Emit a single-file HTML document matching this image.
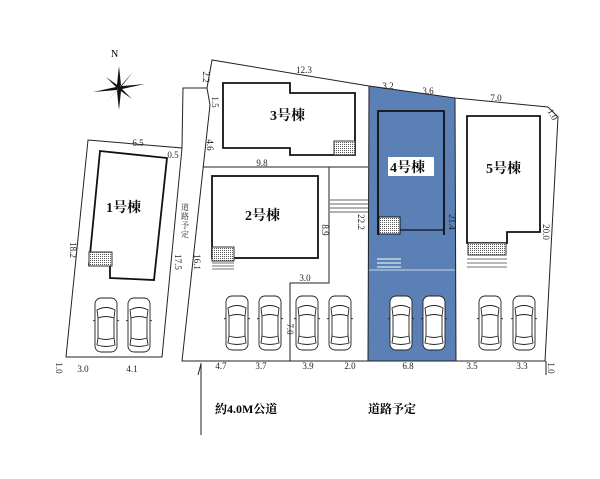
<!DOCTYPE html>
<html><head><meta charset="utf-8"><style>
html,body{margin:0;padding:0;background:#fff;}
svg{display:block;font-family:"Liberation Serif","Noto Serif CJK SC",serif;}
.d{font-size:9px;fill:#222;}
.b{font-size:14px;font-weight:bold;fill:#111;}
</style></head><body>
<svg width="600" height="479" viewBox="0 0 600 479" xmlns="http://www.w3.org/2000/svg">
<defs>
<pattern id="h" width="2" height="2" patternUnits="userSpaceOnUse"><rect width="2" height="2" fill="#fff"/><rect width="1" height="1" fill="#555"/></pattern>
<g id="car" fill="none" stroke="#222" stroke-width="0.9">
<rect x="0" y="0" width="22" height="54" rx="6"/>
<path d="M2 12 Q11 7 20 12 L19 20 Q11 17 3 20 Z"/>
<path d="M3 20 L3 40 M19 20 L19 40"/>
<path d="M3 40 Q11 43 19 40 L20 47 Q11 50 2 47 Z"/>
<path d="M0 22 l-2 1 M22 22 l2 1"/>
</g>
</defs>
<polygon points="369,86 455,98 456,361 368,361" fill="#5b80b6"/>
<line x1="368" y1="270" x2="455" y2="270" stroke="#c8d4e6" stroke-width="1"/>
<!-- lot 1 -->
<polygon points="88,140 182,148 162,357 66,357" fill="none" stroke="#222" stroke-width="1"/>
<polyline points="182,148 183,88 207,88" fill="none" stroke="#222" stroke-width="1"/>
<polyline points="207,88 212,60 369,86 455,98 548,107 558,117 545,361 182,361 210,105 207,88" fill="none" stroke="#222" stroke-width="1"/>
<line x1="369" y1="86" x2="368" y2="361" stroke="#222"/>
<line x1="455" y1="98" x2="456" y2="361" stroke="#222"/>
<line x1="203" y1="167" x2="368" y2="167" stroke="#222"/>
<polyline points="290,361 290,283 329,283 329,167" fill="none" stroke="#222"/>
<g stroke="#333" stroke-width="0.8"><line x1="330" y1="200" x2="368" y2="200"/><line x1="330" y1="204" x2="368" y2="204"/><line x1="330" y1="208" x2="368" y2="208"/><line x1="330" y1="212" x2="368" y2="212"/></g>
<!-- building 1 -->
<polygon points="100,151 167,158 154,280 110,278 110,265 89,265" fill="#fff" stroke="#111" stroke-width="1.8"/>
<rect x="89" y="252" width="23" height="14" fill="url(#h)" stroke="#333"/>
<text x="106" y="212" class="b">1号棟</text>
<!-- building 3 -->
<polygon points="223,83 290,83 290,93 355,93 355,155 290,155 290,148 223,148" fill="#fff" stroke="#111" stroke-width="1.8"/>
<rect x="334" y="141" width="21" height="14" fill="url(#h)" stroke="#333"/>
<text x="270" y="120" class="b">3号棟</text>
<!-- building 2 -->
<rect x="212" y="176" width="106" height="82" fill="#fff" stroke="#111" stroke-width="1.8"/>
<rect x="212" y="247" width="22" height="14" fill="url(#h)" stroke="#333"/>
<g stroke="#444" stroke-width="0.7"><line x1="212" y1="263" x2="234" y2="263"/><line x1="212" y1="266" x2="234" y2="266"/><line x1="212" y1="269" x2="234" y2="269"/></g>
<text x="245" y="220" class="b">2号棟</text>
<!-- building 4 -->
<polyline points="378,235 378,111 444,111 444,235" fill="none" stroke="#111" stroke-width="1.8"/>
<line x1="400" y1="230" x2="444" y2="230" stroke="#111" stroke-width="1.2"/>
<rect x="379" y="217" width="21" height="17" fill="url(#h)" stroke="#111"/>
<g stroke="#fff" stroke-width="1"><line x1="377" y1="259" x2="401" y2="259"/><line x1="377" y1="263" x2="401" y2="263"/><line x1="377" y1="267" x2="401" y2="267"/></g>
<rect x="388" y="157" width="46" height="19" fill="#fff"/>
<text x="390" y="172" class="b">4号棟</text>
<!-- building 5 -->
<polygon points="467,116 540,116 540,232 507,232 507,243 467,243" fill="#fff" stroke="#111" stroke-width="1.8"/>
<rect x="468" y="243" width="38" height="12" fill="url(#h)" stroke="#333"/>
<g stroke="#444" stroke-width="0.7"><line x1="467" y1="259" x2="507" y2="259"/><line x1="467" y1="263" x2="507" y2="263"/><line x1="467" y1="267" x2="507" y2="267"/></g>
<text x="486" y="173" class="b">5号棟</text>
<!-- cars -->
<use href="#car" x="95" y="298"/><use href="#car" x="128" y="298"/>
<use href="#car" x="226" y="296"/><use href="#car" x="259" y="296"/>
<use href="#car" x="296" y="296"/><use href="#car" x="329" y="296"/>
<g fill="#fff"><rect x="390" y="296" width="22" height="54" rx="6"/><rect x="423" y="296" width="22" height="54" rx="6"/></g>
<use href="#car" x="390" y="296"/><use href="#car" x="423" y="296"/>
<use href="#car" x="479" y="296"/><use href="#car" x="513" y="296"/>
<!-- compass -->
<g transform="translate(119,88)" fill="#111">
<polygon points="0,-22 2,-3 0,0 -2,-3"/><polygon points="0,22 2,3 0,0 -2,3"/>
<polygon points="-26,4 -3,-1 0,0 -2,2"/><polygon points="26,-4 3,-2 0,0 3,1"/>
<polygon points="14,-16 2,-1 -1,1"/><polygon points="-14,16 1,-1 -1,1"/>
<polygon points="-13,-11 -1,1 1,-1"/><polygon points="13,11 -1,1 1,-1"/>
</g>
<text x="111" y="57" style="font-size:10px">N</text>
<g class="d" text-anchor="middle">
<text x="138" y="146">6.5</text><text x="173" y="158">0.5</text>
<text x="262" y="166">9.8</text><text x="304" y="73">12.3</text>
<text x="388" y="89">3.2</text><text x="428" y="94">3.6</text><text x="496" y="101">7.0</text>
<text x="305" y="281">3.0</text>
<text x="83" y="372">3.0</text><text x="132" y="372">4.1</text>
<text x="221" y="369">4.7</text><text x="261" y="369">3.7</text>
<text x="308" y="369">3.9</text><text x="350" y="369">2.0</text><text x="408" y="369">6.8</text>
<text x="472" y="369">3.5</text><text x="522" y="369">3.3</text>
<text transform="translate(70,250) rotate(90)">18.2</text>
<text transform="translate(175,262) rotate(90)">17.5</text>
<text transform="translate(194,262) rotate(90)">16.1</text>
<text transform="translate(207,145) rotate(90)">4.6</text>
<text transform="translate(212,102) rotate(90)">1.5</text>
<text transform="translate(203,77) rotate(90)">2.2</text>
<text transform="translate(322,230) rotate(90)">8.9</text>
<text transform="translate(358,222) rotate(90)">22.2</text>
<text transform="translate(449,222) rotate(90)">21.4</text>
<text transform="translate(543,232) rotate(90)">20.0</text>
<text transform="translate(550,116) rotate(60)">1.0</text>
<text transform="translate(548,368) rotate(90)">1.0</text>
<text transform="translate(56,368) rotate(90)">1.0</text>
<text transform="translate(287,329) rotate(90)">7.0</text>
</g>
<text style="font-size:8px" fill="#222" text-anchor="middle"><tspan x="185" y="210">道</tspan><tspan x="185" y="219">路</tspan><tspan x="185" y="228">予</tspan><tspan x="185" y="237">定</tspan></text>
<line x1="201" y1="363" x2="201" y2="435" stroke="#222"/>
<line x1="198" y1="375" x2="201" y2="364" stroke="#222"/>
<line x1="546" y1="361" x2="546" y2="375" stroke="#222"/>
<text x="215" y="413" style="font-size:12px;font-weight:bold">約4.0M公道</text>
<text x="368" y="413" style="font-size:12px;font-weight:bold">道路予定</text>
</svg>
</body></html>
